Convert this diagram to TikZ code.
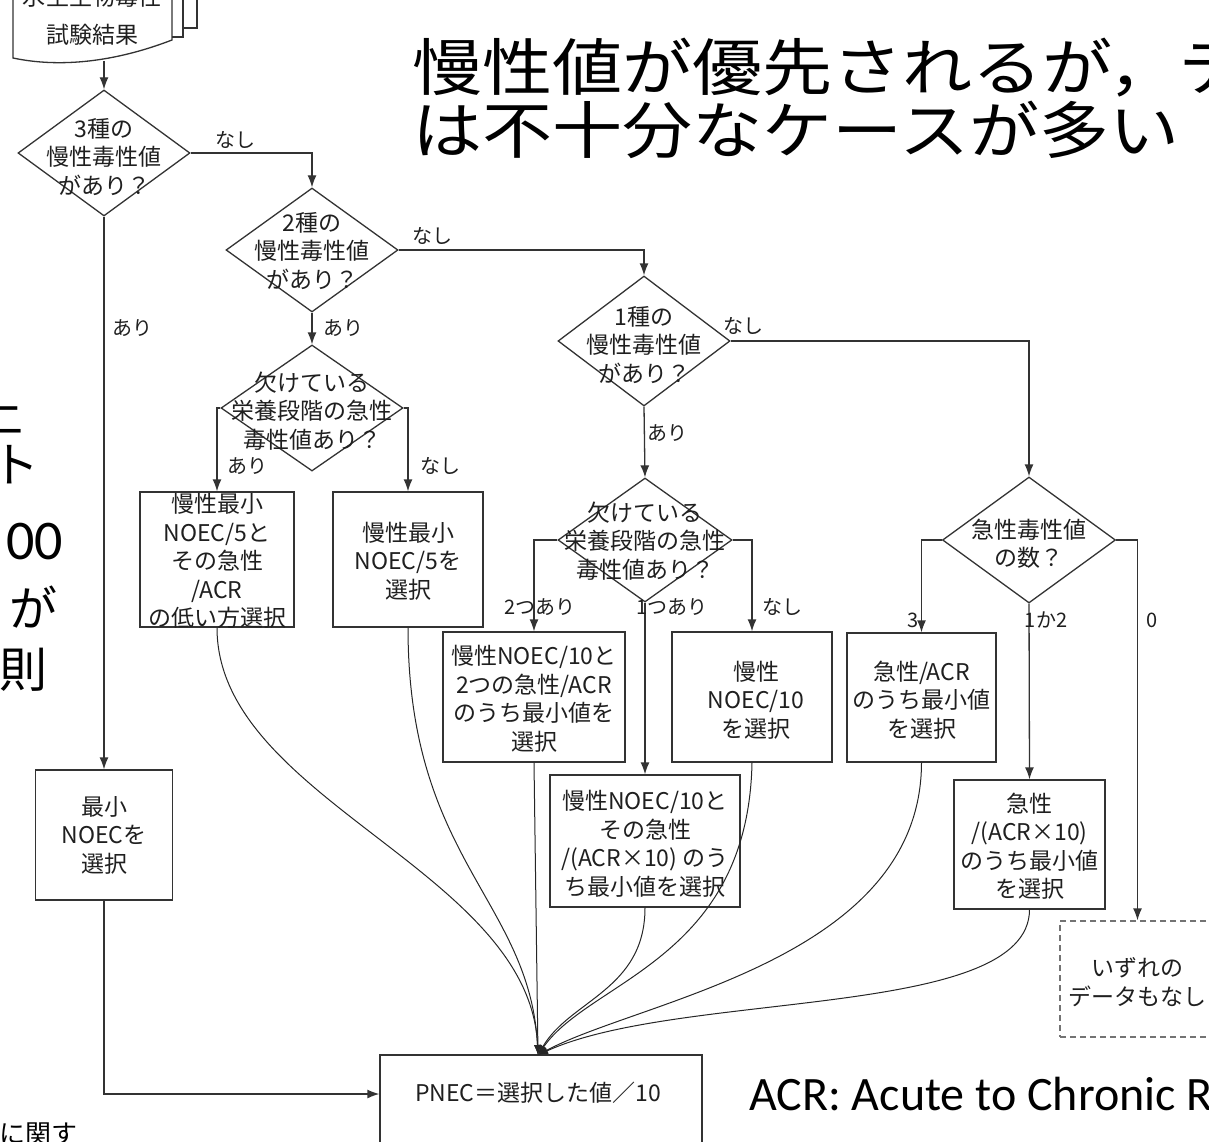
\documentclass[tikz,border=0pt]{standalone}
\usepackage{fontspec}
\setmainfont{Noto Sans CJK JP}
\newfontfamily\carlito{Carlito}
\newfontfamily\titlefont[FakeStretch=1.13]{Noto Sans CJK JP}
\usetikzlibrary{shapes.geometric,arrows.meta}
\begin{document}
\begin{tikzpicture}[x=1pt,y=-1pt,
  ln/.style={line width=1.3pt, draw=black!80},
  arr/.style={ln, -{Latex[length=12pt,width=9pt]}},
  carr/.style={line width=1pt, draw=black!85, -{Latex[length=10pt,width=7pt]}},
  dia/.style={diamond, draw=black!80, line width=1.3pt, inner sep=0pt},
  box/.style={rectangle, draw=black!80, line width=1.3pt, inner sep=0pt},
  dbox/.style={rectangle, draw=black!55, line width=1.3pt, dash pattern=on 6pt off 4pt, inner sep=0pt},
  txt/.style={font=\fontsize{23}{28.5}\selectfont, align=center, text=black!88, inner sep=0pt},
  lbl/.style={font=\fontsize{20}{24}\selectfont, text=black!88, inner sep=0pt},
  big/.style={font=\fontsize{48}{52}\selectfont, inner sep=0pt},
  ttl/.style={anchor=west, font=\titlefont\fontsize{62}{62}\selectfont, inner sep=0pt},
]
\useasboundingbox (0,0) rectangle (1209,1142);

% --- document (test results) ---
\draw[ln] (13,-5) -- (13,58) .. controls (60,68) and (115,62) .. (172,40) -- (172,-5);
\draw[ln] (172,37) -- (183,37) -- (183,-5);
\draw[ln] (183,28) -- (197,28) -- (197,-5);
\node[txt] (doc0) at (92,-3) {水生生物毒性};
\node[txt] (doc) at (92,35) {試験結果};
\coordinate (docb) at (104,61);

% --- title and notes ---
\node[ttl] (t1) at (412,68) {慢性値が優先されるが，テ};
\node[ttl] (t2) at (412,130) {は不十分なケースが多い};
\node[anchor=base west, font=\carlito\fontsize{48}{48}\selectfont, inner sep=0pt] (acr) at (749,1110) {ACR: Acute to Chronic R};

\node[big, anchor=east] (l1) at (24,412) {上};
\node[big, anchor=east] (l2) at (40,465) {ト};
\node[anchor=east, font=\carlito\fontsize{56}{58}\selectfont, inner sep=0pt] (l3) at (63,542) {00};
\node[big, anchor=east] (l4) at (58,607) {が};
\node[big, anchor=east] (l5) at (48,670) {則};
\node[anchor=east, font=\fontsize{26}{26}\selectfont, inner sep=0pt] (l6) at (78,1134) {に関す};

% --- diamonds ---
\node[dia, minimum width=172pt, minimum height=126pt] (d1) at (104,153) {};
\node[txt] (d1t) at (104,157) {3種の\\慢性毒性値\\があり？};
\node[dia, minimum width=172pt, minimum height=124pt] (d2) at (312,250) {};
\node[txt] (d2t) at (312,251) {2種の\\慢性毒性値\\があり？};
\node[dia, minimum width=182pt, minimum height=126pt] (d2b) at (312,408) {};
\node[txt] (d2bt) at (312,411) {欠けている\\栄養段階の急性\\毒性値あり？};
\node[dia, minimum width=172pt, minimum height=130pt] (d3) at (644,341) {};
\node[txt] (d3t) at (644,345) {1種の\\慢性毒性値\\があり？};
\node[dia, minimum width=174pt, minimum height=124pt] (d3b) at (645,540) {};
\node[txt] (d3bt) at (645,541) {欠けている\\栄養段階の急性\\毒性値あり？};
\node[dia, minimum width=173pt, minimum height=126pt] (d4) at (1029,540) {};
\node[txt] (d4t) at (1029,544) {急性毒性値\\の数？};

% --- boxes ---
\node[box, minimum width=154pt, minimum height=135pt] (A) at (217,559.5) {};
\node[txt] (At) at (217,561) {慢性最小\\NOEC/5と\\その急性\\/ACR\\の低い方選択};
\node[box, minimum width=150pt, minimum height=135pt] (B) at (408,559.5) {};
\node[txt] (Bt) at (408,561) {慢性最小\\NOEC/5を\\選択};
\node[box, minimum width=137pt, minimum height=130pt] (C) at (104,835) {};
\node[txt] (Ct) at (104,835) {最小\\NOECを\\選択};
\node[box, minimum width=182pt, minimum height=130pt] (D) at (534,697) {};
\node[txt] (Dt) at (534,699) {慢性NOEC/10と\\2つの急性/ACR\\のうち最小値を\\選択};
\node[box, minimum width=190pt, minimum height=132pt] (E) at (645,841) {};
\node[txt] (Et) at (645,844) {慢性NOEC/10と\\その急性\\/(ACR×10) のう\\ち最小値を選択};
\node[box, minimum width=160pt, minimum height=130pt] (F) at (752,697) {};
\node[txt] (Ft) at (756,700) {慢性\\NOEC/10\\を選択};
\node[box, minimum width=149pt, minimum height=129pt] (G) at (921.5,697.5) {};
\node[txt] (Gt) at (921.5,700) {急性/ACR\\のうち最小値\\を選択};
\node[box, minimum width=151pt, minimum height=129pt] (H) at (1029.5,844.5) {};
\node[txt] (Ht) at (1029.5,846) {急性\\/(ACR×10)\\のうち最小値\\を選択};
\node[dbox, minimum width=155pt, minimum height=116pt] (I) at (1137.5,979) {};
\node[txt] (It) at (1137,982) {いずれの\\データもなし};
\node[box, minimum width=322pt, minimum height=130pt] (P) at (541,1120) {};
\node[txt] (Pt) at (538,1093) {PNEC＝選択した値／10};

% --- connectors ---
\draw[arr] (docb) -- (d1.north);
\draw[arr] (d1.east) -| (d2.north);
\node[lbl] (n1) at (235,140) {なし};
\draw[arr] (d1.south) -- (C.north);
\node[lbl] (a1) at (132,328) {あり};
\draw[arr] (C.south) |- (P.west |- 0,1094);
\draw[arr] (d2.east) -| (d3.north);
\node[lbl] (n2) at (432,236) {なし};
\draw[arr] (d2.south) -- (d2b.north);
\node[lbl] (a2) at (343,328) {あり};
\draw[arr] (d2b.west) -| (A.north);
\node[lbl] (a3) at (247,466) {あり};
\draw[arr] (d2b.east) -| (B.north);
\node[lbl] (n3) at (440,466) {なし};
\draw[arr] (d3.east) -| (d4.north);
\node[lbl] (n4) at (743,326) {なし};
\draw[arr] (d3.south) -- (d3b.north);
\node[lbl] (a4) at (667,433) {あり};
\draw[arr] (d3b.west) -| (D.north);
\node[lbl] (a5) at (540,607) {2つあり};
\draw[arr] (d3b.south) -- (E.north);
\node[lbl] (a6) at (672,607) {1つあり};
\draw[arr] (d3b.east) -| (F.north);
\node[lbl] (n5) at (782,607) {なし};
\draw[arr] (d4.west) -| (G.north);
\node[lbl] (c3) at (913,620) {3};
\draw[arr] (d4.south) -- (H.north);
\node[lbl] (c12) at (1046,620) {1か2};
\draw[arr] (d4.east) -| (I.north);
\node[lbl] (c0) at (1152,620) {0};

% --- curves to PNEC ---
\coordinate (conv) at (538,1055);
\draw[carr] (A.south) .. controls (217,800) and (530,870) .. (conv);
\draw[carr] (B.south) .. controls (408,860) and (530,900) .. (conv);
\draw[carr] (D.south) -- (conv);
\draw[carr] (E.south) .. controls (645,990) and (570,1000) .. (conv);
\draw[carr] (F.south) .. controls (748,960) and (590,980) .. (conv);
\draw[carr] (G.south) .. controls (921,960) and (640,1000) .. (conv);
\draw[carr] (H.south) .. controls (1029,1020) and (680,990) .. (conv);
\end{tikzpicture}
\end{document}
